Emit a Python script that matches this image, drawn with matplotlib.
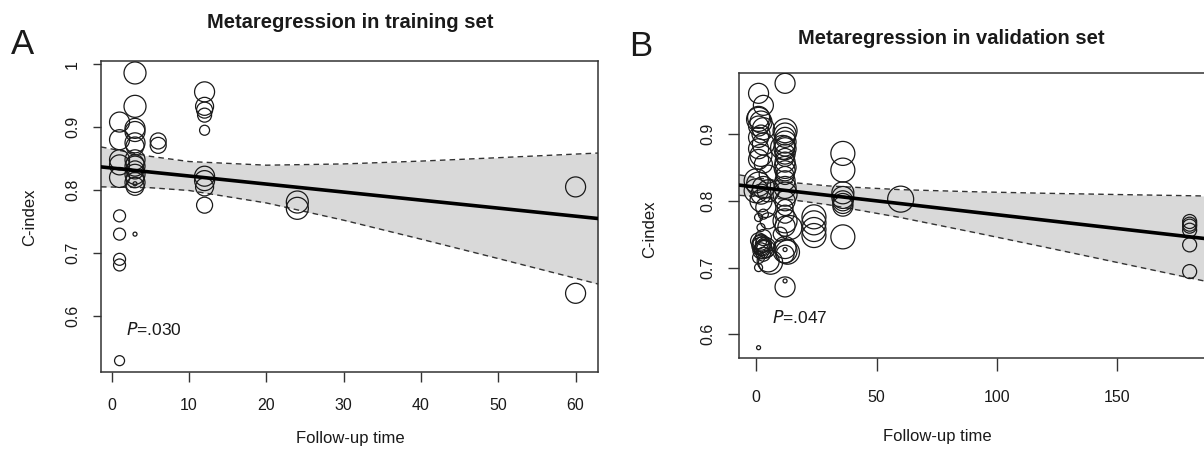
import numpy as np
import matplotlib.pyplot as plt

plt.rcParams['font.family'] = ['Liberation Sans', 'DejaVu Sans']

# ---- panel A: training set ----
train_time = [1, 1, 1, 1, 1, 1, 1, 1, 1, 1,
              3, 3, 3, 3, 3, 3, 3, 3, 3, 3, 3, 3, 3, 3, 3, 3,
              6, 6,
              12, 12, 12, 12, 12, 12, 12, 12, 12,
              24, 24, 60, 60]
train_cidx = [0.908, 0.880, 0.848, 0.840, 0.820, 0.759, 0.730, 0.690, 0.681, 0.529,
              0.986, 0.933, 0.898, 0.893, 0.875, 0.870, 0.848, 0.842, 0.838, 0.832,
              0.825, 0.818, 0.812, 0.806, 0.810, 0.730,
              0.878, 0.871,
              0.956, 0.933, 0.927, 0.919, 0.895, 0.822, 0.815, 0.805, 0.776,
              0.781, 0.771, 0.805, 0.636]
train_wt = [10, 10, 10, 10, 10, 6, 6, 6, 6, 5,
            11, 11, 10, 10, 10, 9, 10, 9, 10, 9, 10, 9, 10, 9, 2, 2,
            8, 8,
            10, 9, 8, 7, 5, 10, 10, 9, 8,
            11, 11, 10, 10]
# fitted line and 95% CI
train_fit_x = [-1.4, 5, 10, 20, 30, 40, 50, 62.9]
train_fit = [0.8368, 0.8286, 0.8223, 0.8095, 0.7968, 0.7840, 0.7713, 0.7548]
train_ci_lo = [0.8051, 0.8037, 0.7993, 0.7795, 0.7521, 0.7220, 0.6912, 0.6508]
train_ci_hi = [0.8685, 0.8535, 0.8453, 0.8395, 0.8415, 0.8460, 0.8514, 0.8588]

# ---- panel B: validation set ----
valid_time = [1, 3, 1, 2, 1, 3, 2, 1, 3, 1, 2, 1, 3, 5, 1, 3, 5, 2,
              3, 1, 5, 2, 3, 1, 2, 3, 4, 2, 3, 1, 5, 1, 1,
              0, 0, 2, 4, 2, 3, 3, 2, 4, 1, 6,
              12, 12, 12, 12, 12, 12, 12, 12, 12,
              12, 12, 12, 12, 12, 12, 12, 12, 12,
              12, 12, 12, 12, 12, 12, 12, 12, 12,
              10, 14, 13, 11,
              24, 24, 24, 24,
              36, 36, 36, 36, 36, 36, 36, 36,
              60,
              180, 180, 180, 180, 180, 180]
valid_cidx = [0.961, 0.943, 0.925, 0.918, 0.912, 0.908, 0.900, 0.895, 0.885,
              0.878, 0.868, 0.862, 0.855, 0.840, 0.825, 0.820, 0.815, 0.810,
              0.780, 0.775, 0.770, 0.760, 0.745, 0.740, 0.735, 0.730, 0.728,
              0.725, 0.720, 0.715, 0.710, 0.700, 0.580,
              0.830, 0.815, 0.800, 0.790, 0.732, 0.735, 0.727, 0.738, 0.730, 0.922, 0.708,
              0.976, 0.905, 0.900, 0.895, 0.888, 0.882, 0.878, 0.870, 0.865,
              0.858, 0.850, 0.845, 0.838, 0.830, 0.820, 0.810, 0.800, 0.790,
              0.780, 0.770, 0.762, 0.730, 0.725, 0.720, 0.727, 0.671, 0.680,
              0.750, 0.760, 0.723, 0.880,
              0.776, 0.767, 0.757, 0.748,
              0.871, 0.846, 0.812, 0.805, 0.800, 0.796, 0.792, 0.746,
              0.8025,
              0.769, 0.765, 0.762, 0.756, 0.734, 0.694]
valid_wt = [10, 10, 11, 11, 10, 11, 9, 10, 11, 10, 11, 10, 9, 9, 12, 11, 11, 10,
            5, 4, 8, 4, 8, 8, 9, 8, 9, 8, 7, 6, 11, 4, 2,
            12, 12, 11, 10, 9, 8, 9, 8, 10, 12, 12,
            10, 12, 11, 10, 11, 10, 11, 10, 9,
            10, 11, 10, 9, 10, 11, 12, 10, 8,
            9, 12, 10, 11, 12, 9, 2, 10, 2,
            7, 12, 12, 12,
            12, 12, 12, 12,
            12, 12, 11, 11, 10, 10, 10, 12,
            13,
            7, 7, 7, 7, 7, 7]
valid_fit_x = [-7, 0, 15, 30, 60, 90, 120, 150, 187]
valid_fit = [0.8235, 0.8206, 0.8144, 0.8082, 0.7958, 0.7833, 0.7709, 0.7585, 0.7432]
valid_ci_lo = [0.8082, 0.8065, 0.8014, 0.7941, 0.7749, 0.7530, 0.7305, 0.7076, 0.6792]
valid_ci_hi = [0.8388, 0.8347, 0.8274, 0.8223, 0.8167, 0.8136, 0.8113, 0.8094, 0.8072]

W, H = 1204, 455
fig = plt.figure(figsize=(W / 100, H / 100), dpi=100)


def px_axes(left, top, right, bottom):
    return fig.add_axes([left / W, 1 - bottom / H, (right - left) / W, (bottom - top) / H])


def draw_panel(ax, t, c, w, fx, fy, lo, hi, xlim, ylim, xticks, yticks, ytl, ptxt, pxy):
    ax.fill_between(fx, lo, hi, color='#d9d9d9', lw=0, zorder=1)
    ax.plot(fx, lo, color='#333333', lw=1.0, ls=(0, (4, 3)), zorder=2)
    ax.plot(fx, hi, color='#333333', lw=1.0, ls=(0, (4, 3)), zorder=2)
    sizes = (1.44 * np.array(w)) ** 2
    ax.scatter(t, c, s=sizes, facecolors='none', edgecolors='#1a1a1a', linewidths=0.9, zorder=3)
    ax.plot(fx, fy, color='black', lw=2.6, zorder=4)
    ax.set_xlim(*xlim)
    ax.set_ylim(*ylim)
    ax.set_xticks(xticks)
    ax.set_yticks(yticks)
    ax.set_yticklabels(ytl, rotation=90, va='center')
    for s in ax.spines.values():
        s.set_color('#333333')
        s.set_linewidth(1.1)
    ax.tick_params(axis='both', direction='out', width=1, color='#333333',
                   labelsize=11.5, labelcolor='#1a1a1a')
    ax.tick_params(axis='x', length=7.5, pad=11.5)
    ax.tick_params(axis='y', length=6, pad=9)
    ax.text(pxy[0], pxy[1], ptxt, fontsize=12.5, color='#1a1a1a', va='center', ha='left')


ax1 = px_axes(101, 61, 598, 372)
draw_panel(ax1, train_time, train_cidx, train_wt, train_fit_x, train_fit, train_ci_lo, train_ci_hi,
           (-1.4, 62.9), (0.511, 1.005), [0, 10, 20, 30, 40, 50, 60], [0.6, 0.7, 0.8, 0.9, 1],
           ['0.6', '0.7', '0.8', '0.9', '1'], r'$\it{P}$=.030', (1.85, 0.579))

ax2 = px_axes(739.3, 73.3, 1206.5, 357.7)
draw_panel(ax2, valid_time, valid_cidx, valid_wt, valid_fit_x, valid_fit, valid_ci_lo, valid_ci_hi,
           (-7, 187), (0.565, 0.991), [0, 50, 100, 150], [0.6, 0.7, 0.8, 0.9],
           ['0.6', '0.7', '0.8', '0.9'], r'$\it{P}$=.047', (6.5, 0.6255))
ax2.tick_params(axis='x', length=9, pad=14)
ax2.tick_params(axis='y', length=8)

# titles, panel letters, axis labels
fig.text(350 / W, 1 - 22 / H, 'Metaregression in training set', fontsize=14.5, fontweight='bold',
         ha='center', va='center', color='#1a1a1a')
fig.text(951 / W, 1 - 39 / H, 'Metaregression in validation set', fontsize=14.5, fontweight='bold',
         ha='center', va='center', color='#1a1a1a')
fig.text(22 / W, 1 - 44 / H, 'A', fontsize=25, ha='center', va='center', color='#1a1a1a')
fig.text(641 / W, 1 - 46 / H, 'B', fontsize=25, ha='center', va='center', color='#1a1a1a')
fig.text(30 / W, 1 - 217 / H, 'C-index', fontsize=12, rotation=90, ha='center', va='center', color='#1a1a1a')
fig.text(650 / W, 1 - 229 / H, 'C-index', fontsize=12, rotation=90, ha='center', va='center', color='#1a1a1a')
fig.text(350 / W, 1 - 439 / H, 'Follow-up time', fontsize=12, ha='center', va='center', color='#1a1a1a')
fig.text(937 / W, 1 - 437 / H, 'Follow-up time', fontsize=12, ha='center', va='center', color='#1a1a1a')

fig.savefig('out.png', dpi=100, facecolor='white')
